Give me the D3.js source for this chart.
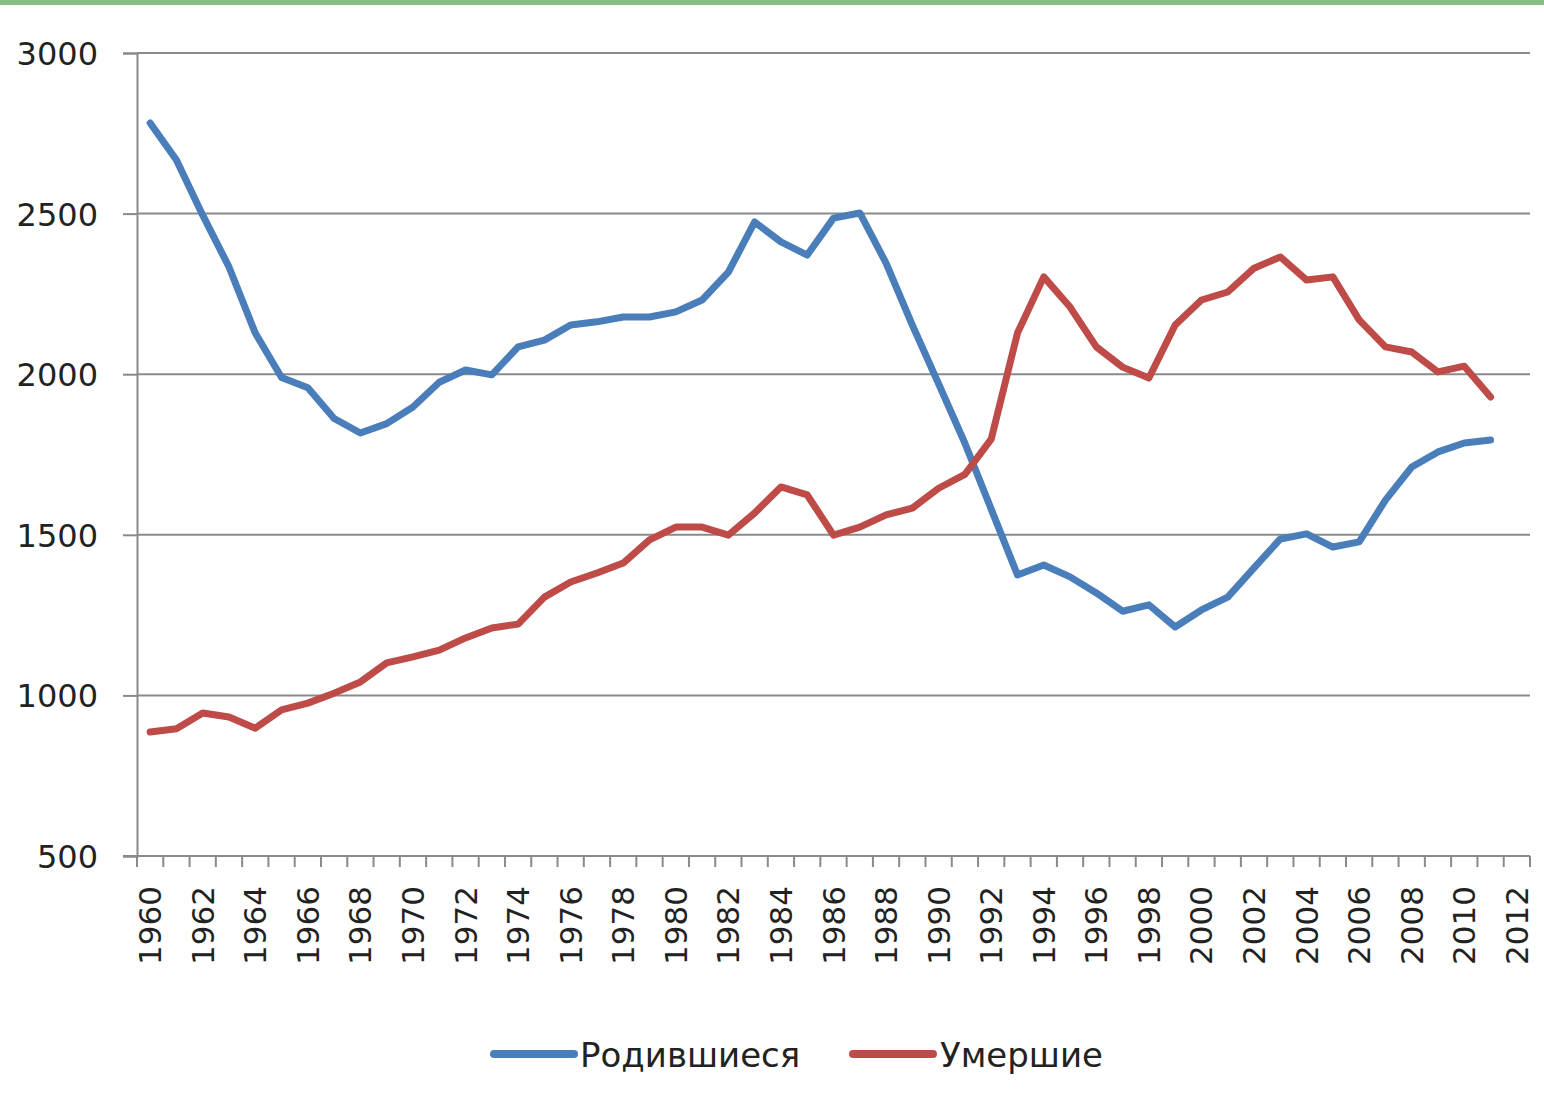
<!DOCTYPE html>
<html>
<head>
<meta charset="utf-8">
<script src="https://cdn.jsdelivr.net/npm/d3@7"></script>
<style>
  html, body { margin: 0; padding: 0; background: #fff; }
  svg { display: block; }
</style>
</head>
<body>
<svg id="chart" width="1544" height="1117"></svg>
<script>
const years = d3.range(1960, 2013);
const dataYears = d3.range(1960, 2012);
const births = [2782, 2667, 2495, 2334, 2128, 1990, 1958, 1862, 1817, 1846, 1898, 1975, 2013,
  1998, 2085, 2106, 2153, 2163, 2178, 2178, 2194, 2231, 2318, 2474, 2412, 2371, 2486, 2502,
  2346, 2153, 1970, 1785, 1580, 1375, 1406, 1369, 1319, 1262, 1282, 1213, 1266, 1306, 1397,
  1487, 1503, 1462, 1478, 1608, 1711, 1758, 1786, 1795];
const deaths = [886, 896, 945, 933, 898, 955, 976, 1007, 1042, 1101, 1120, 1141, 1179, 1210,
  1222, 1306, 1353, 1381, 1412, 1484, 1524, 1524, 1499, 1568, 1649, 1624, 1499, 1524, 1562,
  1583, 1645, 1688, 1798, 2128, 2303, 2209, 2085, 2022, 1988, 2153, 2231, 2256, 2330, 2365,
  2293, 2303, 2169, 2085, 2069, 2007, 2025, 1929];
const yTicks = [500, 1000, 1500, 2000, 2500, 3000];
const seriesNames = ["Родившиеся", "Умершие"];
const seriesColors = ["#4a7ebb", "#be4b48"];

(function () {
const svg = d3.select("#chart");
const pl = 137, pr = 1530, pt = 53, pb = 856;
const font = "'DejaVu Sans', Verdana, sans-serif";

// top green strip
svg.append("rect").attr("x", 0).attr("y", 0).attr("width", 1544).attr("height", 5).attr("fill", "#86be86");

const x = d3.scaleBand().domain(years).range([pl, pr]).padding(0);
const y = d3.scaleLinear().domain([500, 3000]).range([pb, pt]);
const cx = d => x(d) + x.bandwidth() / 2;

// gridlines
svg.append("g").selectAll("line").data(yTicks.slice(1)).join("line")
  .attr("x1", pl).attr("x2", pr)
  .attr("y1", d => y(d)).attr("y2", d => y(d))
  .attr("stroke", "#8a8a8a").attr("stroke-width", 2);

// y axis
const yAxis = d3.axisLeft(y).tickValues(yTicks).tickSize(14).tickPadding(25).tickFormat(d3.format("d"));
const gy = svg.append("g").attr("transform", `translate(${pl},0)`).call(yAxis);
gy.select(".domain").attr("stroke", "#8a8a8a").attr("stroke-width", 2);
gy.selectAll(".tick line").attr("stroke", "#8a8a8a").attr("stroke-width", 2);
gy.selectAll("text").attr("font-family", font)
  .attr("font-size", 32).attr("fill", "#222").attr("dy", "0.36em");

// x axis: ticks at category boundaries
const boundaries = years.map(d => x(d)).concat([pr]);
svg.append("line").attr("x1", pl - 14).attr("x2", pr).attr("y1", pb).attr("y2", pb)
  .attr("stroke", "#8a8a8a").attr("stroke-width", 2);
svg.append("g").selectAll("line").data(boundaries).join("line")
  .attr("x1", d => d).attr("x2", d => d).attr("y1", pb).attr("y2", pb + 11)
  .attr("stroke", "#8a8a8a").attr("stroke-width", 2);

svg.append("g").selectAll("text").data(years.filter(d => d % 2 === 0)).join("text")
  .attr("transform", d => `translate(${cx(d) + 11},${pb + 30}) rotate(-90)`)
  .attr("text-anchor", "end")
  .attr("font-family", font)
  .attr("font-size", 31).attr("fill", "#222")
  .text(d => d);

// lines
const line = d3.line().x((d, i) => cx(dataYears[i])).y(d => y(d));
[births, deaths].forEach((s, i) => {
  svg.append("path").datum(s).attr("d", line)
    .attr("fill", "none").attr("stroke", seriesColors[i]).attr("stroke-width", 7)
    .attr("stroke-linejoin", "round").attr("stroke-linecap", "round");
});

// legend
const legendItems = [{x: 494, tx: 580}, {x: 853, tx: 940}];
legendItems.forEach((it, i) => {
  svg.append("line").attr("x1", it.x).attr("x2", it.x + 80).attr("y1", 1054).attr("y2", 1054)
    .attr("stroke", seriesColors[i]).attr("stroke-width", 8).attr("stroke-linecap", "round");
  svg.append("text").attr("x", it.tx).attr("y", 1067)
    .attr("font-family", font)
    .attr("font-size", 34).attr("fill", "#222")
    .text(seriesNames[i]);
});
})();
</script>
</body>
</html>
